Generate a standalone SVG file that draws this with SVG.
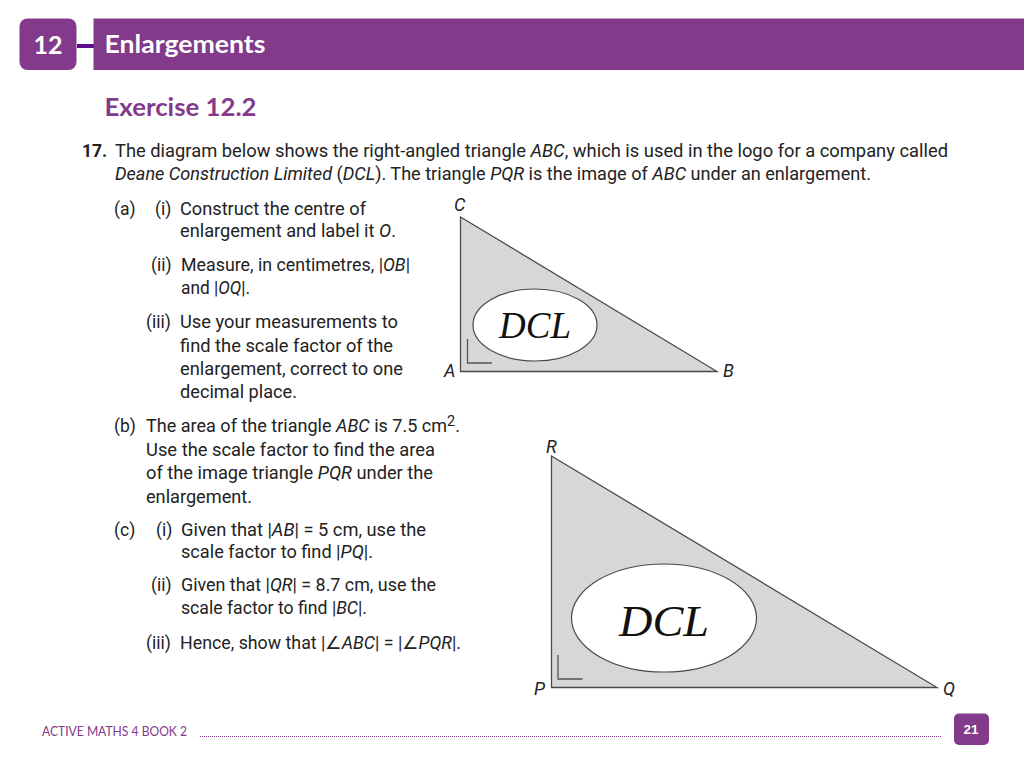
<svg xmlns="http://www.w3.org/2000/svg" width="1024" height="768" viewBox="0 0 1024 768">
<style>
.b{font-family:Roboto,"Liberation Sans",sans-serif;font-size:17.5px;fill:#222}
.h{font-family:Lato,"Open Sans",sans-serif;font-weight:700}
.l{font-family:Roboto,"Liberation Sans",sans-serif;font-size:18px;font-style:italic;fill:#222}
.d{font-family:"Liberation Serif",serif;font-style:italic;fill:#111}
.t{fill:#d6d7d9;stroke:#4a4a4a;stroke-width:1.3}
.e{fill:#fff;stroke:#4a4a4a;stroke-width:1.2}
.m{fill:none;stroke:#555;stroke-width:1.3}
tspan.i{font-style:italic}
</style>
<rect width="1024" height="768" fill="#fff"/>
<g id="header">
<rect x="77" y="44" width="17" height="4" fill="#5a0f8a"/>
<rect x="19.500" y="18.500" width="57" height="51.500" rx="8" fill="#833a8a"/>
<rect x="93.500" y="18.500" width="930.500" height="51.500" fill="#833a8a"/>
<text class="h" x="48" y="54" font-size="25" fill="#fff" text-anchor="middle">12</text>
<text class="h" x="104.500" y="53" font-size="25" fill="#fff" textLength="161" lengthAdjust="spacingAndGlyphs">Enlargements</text>
</g>
<text class="h" x="104.500" y="116" font-size="25" fill="#833a8a" textLength="152" lengthAdjust="spacingAndGlyphs">Exercise 12.2</text>
<g id="question">
<text class="b" x="82" y="157" font-weight="700">17.</text>
<text class="b" x="115" y="157" textLength="833" lengthAdjust="spacingAndGlyphs">The diagram below shows the right-angled triangle <tspan class="i">ABC</tspan>, which is used in the logo for a company called</text>
<text class="b" x="115" y="180" textLength="756" lengthAdjust="spacingAndGlyphs"><tspan class="i">Deane Construction Limited</tspan> (<tspan class="i">DCL</tspan>). The triangle <tspan class="i">PQR</tspan> is the image of <tspan class="i">ABC</tspan> under an enlargement.</text>
<text class="b" x="114" y="215">(a)</text>
<text class="b" x="155" y="215">(i)</text>
<text class="b" x="180" y="215" textLength="186" lengthAdjust="spacingAndGlyphs">Construct the centre of</text>
<text class="b" x="180" y="237" textLength="216" lengthAdjust="spacingAndGlyphs">enlargement and label it <tspan class="i">O</tspan>.</text>
<text class="b" x="151" y="271">(ii)</text>
<text class="b" x="181" y="271" textLength="229" lengthAdjust="spacingAndGlyphs">Measure, in centimetres, |<tspan class="i">OB</tspan>|</text>
<text class="b" x="181" y="294" textLength="69" lengthAdjust="spacingAndGlyphs">and |<tspan class="i">OQ</tspan>|.</text>
<text class="b" x="146" y="328">(iii)</text>
<text class="b" x="180" y="328" textLength="218" lengthAdjust="spacingAndGlyphs">Use your measurements to</text>
<text class="b" x="180" y="352" textLength="213" lengthAdjust="spacingAndGlyphs">find the scale factor of the</text>
<text class="b" x="180" y="375" textLength="223" lengthAdjust="spacingAndGlyphs">enlargement, correct to one</text>
<text class="b" x="180" y="398" textLength="117" lengthAdjust="spacingAndGlyphs">decimal place.</text>
<text class="b" x="114" y="432">(b)</text>
<text class="b" x="146" y="432" textLength="314" lengthAdjust="spacingAndGlyphs">The area of the triangle <tspan class="i">ABC</tspan> is 7.5 cm<tspan font-size="14" dy="-6">2</tspan><tspan dy="6">.</tspan></text>
<text class="b" x="146" y="456" textLength="289" lengthAdjust="spacingAndGlyphs">Use the scale factor to find the area</text>
<text class="b" x="146" y="479" textLength="287" lengthAdjust="spacingAndGlyphs">of the image triangle <tspan class="i">PQR</tspan> under the</text>
<text class="b" x="146" y="503" textLength="106" lengthAdjust="spacingAndGlyphs">enlargement.</text>
<text class="b" x="114" y="536">(c)</text>
<text class="b" x="156" y="536">(i)</text>
<text class="b" x="181" y="536" textLength="245" lengthAdjust="spacingAndGlyphs">Given that |<tspan class="i">AB</tspan>| = 5 cm, use the</text>
<text class="b" x="181" y="558" textLength="192" lengthAdjust="spacingAndGlyphs">scale factor to find |<tspan class="i">PQ</tspan>|.</text>
<text class="b" x="151" y="591">(ii)</text>
<text class="b" x="181" y="591" textLength="255" lengthAdjust="spacingAndGlyphs">Given that |<tspan class="i">QR</tspan>| = 8.7 cm, use the</text>
<text class="b" x="181" y="614" textLength="186" lengthAdjust="spacingAndGlyphs">scale factor to find |<tspan class="i">BC</tspan>|.</text>
<text class="b" x="146" y="649">(iii)</text>
<text class="b" x="180" y="649" textLength="281" lengthAdjust="spacingAndGlyphs">Hence, show that |∠<tspan class="i">ABC</tspan>| = |∠<tspan class="i">PQR</tspan>|.</text>
</g>
<g id="triangle-abc">
<path class="t" d="M460.500 217L717 371.500H460.500Z"/>
<ellipse class="e" cx="535" cy="325" rx="62" ry="36"/>
<path class="m" d="M467.500 339V363H492"/>
<text class="d" x="535" y="338" font-size="37" text-anchor="middle" textLength="72" lengthAdjust="spacingAndGlyphs">DCL</text>
<text class="l" x="454" y="211">C</text>
<text class="l" x="444" y="377">A</text>
<text class="l" x="723" y="377">B</text>
</g>
<g id="triangle-pqr">
<path class="t" d="M551.500 456L937 687.500H551.500Z"/>
<ellipse class="e" cx="664" cy="618" rx="92.500" ry="54"/>
<path class="m" d="M558 655V679H582.500"/>
<text class="d" x="664" y="636" font-size="45" text-anchor="middle" textLength="90" lengthAdjust="spacingAndGlyphs">DCL</text>
<text class="l" x="546" y="453">R</text>
<text class="l" x="534" y="695">P</text>
<text class="l" x="943" y="695">Q</text>
</g>
<g id="footer">
<text x="42" y="736" font-family="Lato,sans-serif" font-size="12.500" fill="#833a8a" textLength="145" lengthAdjust="spacingAndGlyphs">ACTIVE MATHS 4 BOOK 2</text>
<line x1="200" y1="736.500" x2="942" y2="736.500" stroke="#833a8a" stroke-width="1.200" stroke-dasharray="1 1"/>
<rect x="954" y="713.500" width="35" height="31.500" rx="5" fill="#833a8a"/>
<text x="971" y="734" font-family="Liberation Sans,sans-serif" font-weight="700" font-size="13.500" fill="#fff" text-anchor="middle">21</text>
</g>
</svg>
